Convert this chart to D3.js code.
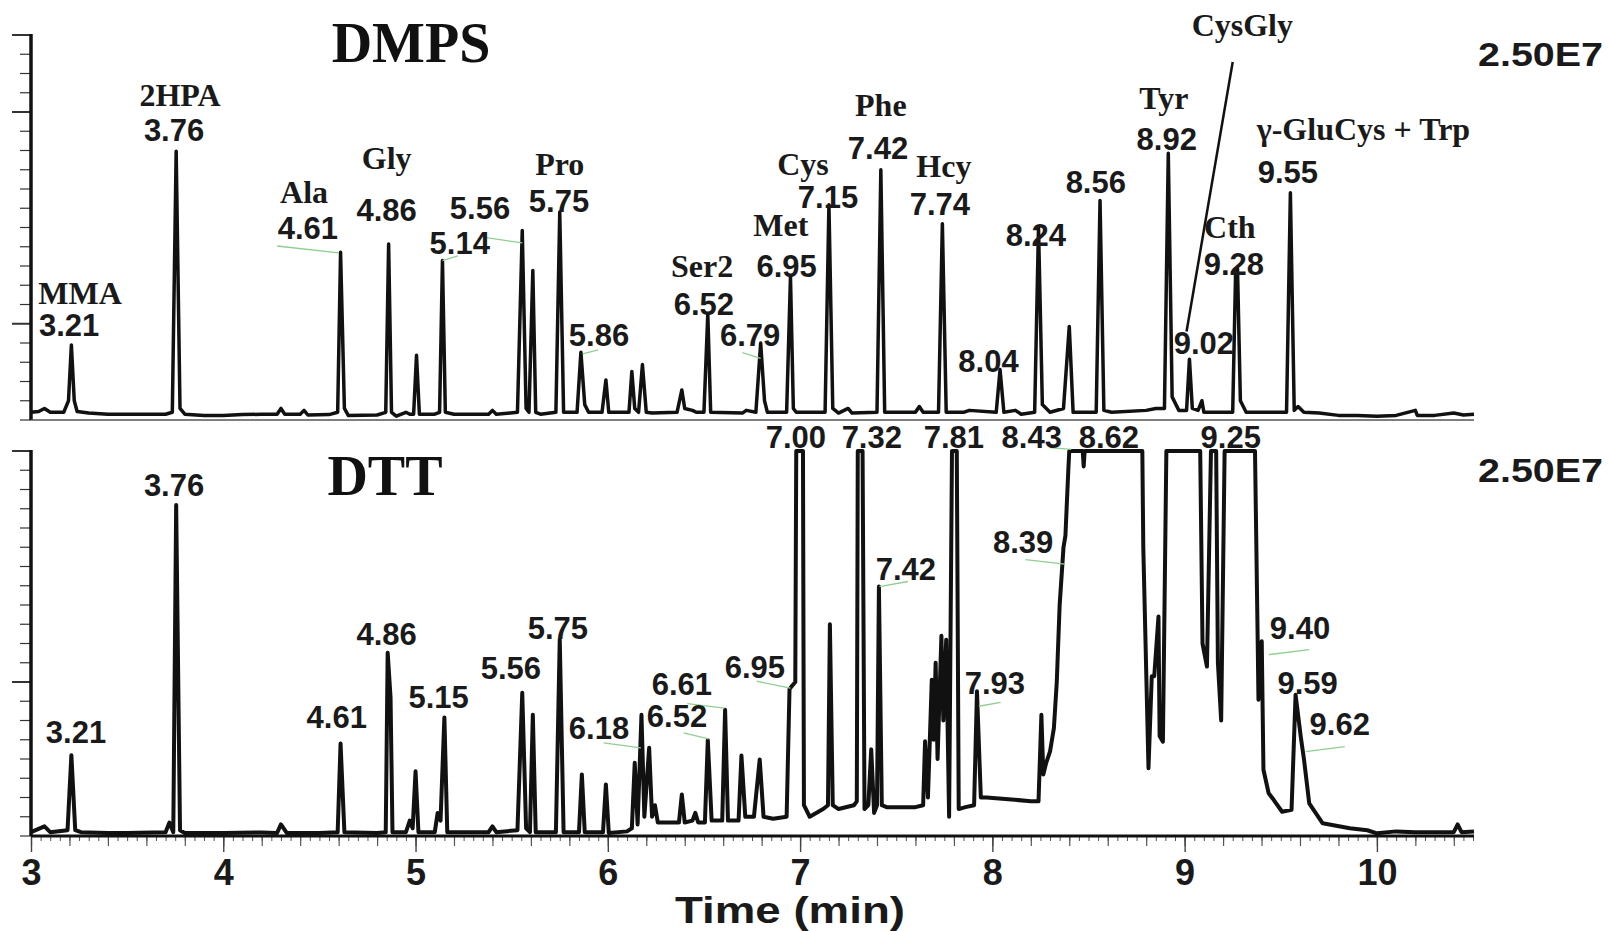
<!DOCTYPE html>
<html lang="en">
<head>
  <meta charset="UTF-8">
  <title>DMPS vs DTT chromatograms</title>
  <script src="https://d3js.org/d3.v7.min.js"></script>
  <style>
    body { margin: 0; background: #fff; }
    .num { font-family: "Liberation Sans", Arial, sans-serif; font-weight: bold; font-size: 31px; fill: #1a1a1a; }
    .name { font-family: "Liberation Serif", "Times New Roman", serif; font-weight: bold; font-size: 32px; fill: #1a1a1a; }
    .title { font-family: "Liberation Serif", "Times New Roman", serif; font-weight: bold; font-size: 56px; fill: #111; }
    .scale { font-family: "Liberation Sans", Arial, sans-serif; font-weight: bold; font-size: 34px; fill: #1a1a1a; }
    .tick text { font-family: "Liberation Sans", Arial, sans-serif; font-weight: bold; font-size: 36px; fill: #1a1a1a; }
    .axis-title { font-family: "Liberation Sans", Arial, sans-serif; font-weight: bold; font-size: 36px; fill: #1a1a1a; }
  </style>
</head>
<body>
<svg width="1610" height="931"></svg>
<script>
// traces: [time (min), relative intensity % of 2.50E7]
const dmpsTrace = [
  [3.00,2.0],[3.04,2.2],[3.07,3.0],[3.10,2.0],[3.17,2.0],[3.195,5],[3.21,19.5],[3.225,5],[3.24,2.2],
  [3.30,1.8],[3.40,1.5],[3.55,1.5],[3.70,1.5],[3.735,2],[3.755,69.8],[3.775,3],[3.80,1.5],[3.90,1.2],
  [4.00,1.2],[4.10,1.4],[4.20,1.5],[4.28,1.5],[4.30,3],[4.32,1.5],[4.40,1.5],[4.42,2.5],[4.44,1.3],
  [4.55,1.4],[4.595,2],[4.61,43.6],[4.63,3],[4.65,1.2],[4.80,1.3],[4.845,2],[4.86,45.7],[4.875,2],
  [4.90,1.0],[4.95,2],[4.97,1.5],[4.99,1.5],[5.005,16.8],[5.02,1.5],[5.10,1.5],[5.125,2],[5.14,41.4],
  [5.155,2],[5.20,1.5],[5.38,1.5],[5.40,2.5],[5.42,1.5],[5.53,2],[5.555,49.2],[5.575,3],[5.59,2],
  [5.61,38.8],[5.625,2],[5.65,1.5],[5.73,2],[5.75,54],[5.77,2],[5.84,2],[5.86,17.6],[5.88,4],[5.90,2],
  [5.97,2],[5.99,10.4],[6.005,2],[6.11,2],[6.125,12.6],[6.14,3],[6.16,2],[6.18,14.4],[6.20,2],
  [6.23,1.8],[6.36,2],[6.385,7.8],[6.40,3],[6.44,2.5],[6.46,2],[6.50,2],[6.52,27.5],[6.535,2],
  [6.70,1.8],[6.72,2.5],[6.77,2],[6.795,20],[6.815,5],[6.83,2],[6.93,2],[6.95,37.2],[6.965,3],
  [6.98,2],[7.13,2],[7.15,55.9],[7.17,3],[7.20,1.8],[7.25,3],[7.27,1.8],[7.40,2],[7.42,65],[7.44,2],
  [7.60,2],[7.62,3.5],[7.64,2],[7.72,2],[7.74,51],[7.76,2],[7.85,2],[7.88,2.5],[8.02,2],[8.04,13.1],
  [8.06,2],[8.12,2.5],[8.15,1.5],[8.22,2],[8.24,50],[8.26,4],[8.30,2],[8.37,3],[8.40,24.3],[8.42,2],
  [8.54,2],[8.56,57],[8.58,2.5],[8.62,2],[8.80,2.5],[8.85,3],[8.895,3],[8.915,69.3],[8.935,6],
  [8.97,2.5],[9.01,2.5],[9.025,15.8],[9.04,3],[9.07,2.5],[9.09,5],[9.10,2],[9.25,2],[9.265,38],
  [9.275,39.3],[9.29,5],[9.32,2],[9.53,2],[9.55,59],[9.57,2.5],[9.59,3.5],[9.62,2],[9.70,1.8],
  [9.80,1.2],[9.90,1.2],[10.0,1.0],[10.10,1.2],[10.20,2.5],[10.21,1.2],[10.30,1.2],[10.40,1.8],
  [10.45,1.3],[10.505,1.5]
];

const dttTrace = [
  [3.00,1.0],[3.07,2.5],[3.10,1.0],[3.19,1.5],[3.21,21],[3.23,1.5],[3.26,1.0],[3.40,0.8],[3.50,0.8],[3.70,1.0],
  [3.72,3.5],[3.74,1.0],[3.755,86],[3.775,1.5],[3.80,0.8],[4.00,0.8],[4.20,0.9],[4.28,0.8],[4.30,3],
  [4.33,0.8],[4.50,0.8],[4.595,1.0],[4.61,24],[4.63,1.0],[4.80,0.8],[4.845,1.0],[4.855,47.6],[4.87,36],
  [4.88,1.0],[4.95,1.0],[4.97,4],[4.985,2],[5.00,16.8],[5.015,1.0],[5.10,1.0],[5.115,6],[5.13,4],[5.15,30.8],
  [5.165,1.0],[5.38,1.0],[5.40,2.5],[5.42,1.0],[5.53,1.5],[5.555,37.2],[5.575,2],[5.595,1.0],[5.61,31.5],
  [5.625,1.0],[5.73,1.0],[5.75,51],[5.77,1.0],[5.85,1.0],[5.865,16],[5.88,1.0],[5.975,1.0],[5.99,13.4],
  [6.005,0.8],[6.10,1.2],[6.125,2],[6.14,19],[6.155,3],[6.175,31.5],[6.19,5],[6.215,22.9],[6.23,5],
  [6.245,8],[6.26,3.5],[6.37,3.5],[6.385,10.8],[6.40,3.5],[6.44,4],[6.455,6],[6.47,3.5],[6.505,3.5],
  [6.52,24.9],[6.54,4],[6.595,4],[6.61,32.8],[6.625,4],[6.68,4],[6.695,20.9],[6.715,5],[6.76,5],
  [6.79,19.9],[6.81,5],[6.86,4.5],[6.93,5],[6.945,38.2],[6.975,40],[6.98,100],[7.015,100],[7.02,8],
  [7.05,5],[7.12,7],[7.145,8],[7.155,55],[7.17,8],[7.20,7],[7.28,8],[7.295,9],[7.30,100],[7.325,100],
  [7.335,7],[7.355,8],[7.37,22.5],[7.385,6],[7.40,8],[7.41,64.8],[7.425,8],[7.45,7.5],[7.60,7.5],
  [7.64,8],[7.65,24.6],[7.665,10],[7.685,40.6],[7.695,25],[7.705,45],[7.715,20],[7.735,52],[7.745,30],
  [7.76,51],[7.775,5],[7.79,100],[7.815,100],[7.825,7],[7.86,7.5],[7.905,8],[7.92,37.6],[7.94,10],
  [7.97,10],[8.10,9.5],[8.20,9],[8.24,9],[8.255,31.5],[8.265,16],[8.28,19],[8.30,22],[8.32,28],
  [8.335,40],[8.35,60],[8.37,75],[8.38,78],[8.395,95],[8.40,100],[8.47,100],[8.475,96],[8.48,100],
  [8.78,100],[8.785,75],[8.812,17.6],[8.829,41.5],[8.842,41.5],[8.864,57],[8.87,26],[8.887,24.5],
  [8.905,100],[9.081,100],[9.093,50],[9.116,44],[9.137,100],[9.164,100],[9.173,45],[9.19,30],
  [9.208,100],[9.366,100],[9.38,50.6],[9.384,35.4],[9.401,50.6],[9.41,17.2],[9.437,11.1],
  [9.463,9.4],[9.507,6.3],[9.556,6.8],[9.577,36.7],[9.604,25.8],[9.621,19.8],[9.648,8.5],
  [9.718,3.3],[9.859,2],[9.95,1.5],[10.00,0.7],[10.10,1.2],[10.20,1.0],[10.40,1.0],[10.42,3],
  [10.44,1.0],[10.505,1.2]
];

// peak annotations: text, anchor time, anchor intensity
const dmpsNames = [
  ["MMA",3.255,30.1],["2HPA",3.775,81.6],["Ala",4.42,56.4],["Gly",4.85,65.2],["Pro",5.75,63.6],
  ["Ser2",6.49,37.1],["Met",6.90,47.8],["Cys",7.015,63.6],["Phe",7.42,79],["Hcy",7.748,63.1],
  ["Tyr",8.892,80.8],["CysGly",9.30,99.7],["Cth",9.235,47.3],["\u03b3-GluCys + Trp",9.93,72.7]
];
const dmpsTimes = [
  ["3.21",3.198,21.8],["3.76",3.744,72.5],["4.61",4.44,47],["4.86",4.85,51.7],["5.14",5.23,43.1],
  ["5.56",5.335,52.2],["5.75",5.746,54],["5.86",5.954,19.2],["6.52",6.50,27.3],["6.79",6.74,19.2],
  ["6.95",6.93,37.1],["7.15",7.145,55.1],["7.42",7.405,67.8],["7.74",7.727,53.2],["8.04",7.98,12.5],
  ["8.24",8.226,45.2],["8.56",8.538,59],["8.92",8.907,70.1],["9.02",9.10,17.1],["9.28",9.256,37.7],
  ["9.55",9.537,61.6]
];
const dttTimes = [
  ["3.21",3.234,24.2],["3.76",3.744,88.3],["4.61",4.59,28.1],["4.86",4.85,49.6],["5.15",5.12,33.2],
  ["5.56",5.496,40.8],["5.75",5.74,51.2],["6.18",5.954,25.2],["6.52",6.36,28.3],["6.61",6.385,36.6],
  ["6.95",6.765,41],["7.00",6.978,100.8],["7.32",7.373,100.8],["7.81",7.80,100.8],["8.43",8.205,100.8],
  ["8.62",8.606,100.8],["9.25",9.24,100.8],["7.42",7.55,66.5],["7.93",8.013,36.9],["8.39",8.16,73.5],
  ["9.40",9.60,51.2],["9.59",9.64,36.9],["9.62",9.807,26.2]
];
// thin leader lines [t1, v1, t2, v2]
const dmpsLeaders = [
  [4.28,45.2,4.60,43.4],[5.14,41.4,5.22,42.6],[5.35,47.5,5.555,46],[5.87,17.2,5.95,18.2],[6.70,17.5,6.795,16]
];
const dttLeaders = [
  [5.978,24.2,6.172,22.9],[6.394,26.8,6.524,25.2],[6.413,34.4,6.607,33.2],[6.774,40.2,6.95,38.4],
  [7.413,64.8,7.561,66.1],[7.93,33.7,8.043,34.7],[8.172,71.8,8.376,70.6],[8.30,100.9,8.41,100.4],
  [9.437,47.1,9.648,48.4],[9.63,21.9,9.833,23.2]
];
const cysGlyPointer = [9.25, 93, 9.01, 23];

const xMajor = [3, 4, 5, 6, 7, 8, 9, 10];
const fullScale = "2.50E7";

const svg = d3.select("svg");
const x = d3.scaleLinear().domain([3, 10.505]).range([31, 1474]);
const yTop = d3.scaleLinear().domain([0, 100]).range([420, 35]);
const yBot = d3.scaleLinear().domain([0, 100]).range([836, 451]);

const yTicks = d3.range(0, 101, 5);
const xMinor = d3.range(3, 10.51, 0.05).map(d => +d.toFixed(2));
const xMid = d3.range(3, 10.51, 0.2).map(d => +d.toFixed(2));

function leftTicks(y, longOnes) {
  const g = svg.append("g");
  g.selectAll("line").data(yTicks).enter().append("line")
    .attr("x1", d => longOnes.includes(d) ? 12 : 20).attr("x2", 31)
    .attr("y1", d => y(d)).attr("y2", d => y(d))
    .attr("stroke", "#333").attr("stroke-width", d => longOnes.includes(d) ? 2 : 1.2);
  g.append("line").attr("x1", 31).attr("x2", 31).attr("y1", y(100) - 1).attr("y2", y(0))
    .attr("stroke", "#111").attr("stroke-width", 3.5);
}
leftTicks(yTop, [100, 80, 25]);
leftTicks(yBot, [100, 40]);

// top panel baseline (thin)
svg.append("line").attr("x1", 31).attr("x2", 1474).attr("y1", yTop(0)).attr("y2", yTop(0))
  .attr("stroke", "#555").attr("stroke-width", 1.3);

// bottom time axis
svg.append("g").attr("transform", `translate(0,${yBot(0)})`)
  .call(d3.axisBottom(x).tickValues(xMinor).tickSize(5).tickFormat(""))
  .call(g => g.select(".domain").remove())
  .selectAll("line").attr("stroke", "#555").attr("stroke-width", 1);
svg.append("g").attr("transform", `translate(0,${yBot(0)})`)
  .call(d3.axisBottom(x).tickValues(xMid).tickSize(10).tickFormat(""))
  .call(g => g.select(".domain").remove())
  .selectAll("line").attr("stroke", "#555").attr("stroke-width", 1.2);
const xAx = svg.append("g").attr("transform", `translate(0,${yBot(0)})`)
  .call(d3.axisBottom(x).tickValues(xMajor).tickSize(16).tickPadding(10).tickFormat(d3.format("d")));
xAx.select(".domain").remove();
xAx.selectAll("line").attr("stroke", "#444").attr("stroke-width", 1.4);
xAx.selectAll("text").attr("fill", "#1a1a1a").attr("y", 49).attr("dy", 0);
svg.append("line").attr("x1", 31).attr("x2", 1474).attr("y1", yBot(0)).attr("y2", yBot(0))
  .attr("stroke", "#111").attr("stroke-width", 3);

svg.append("text").attr("class", "axis-title").attr("x", 790).attr("y", 923)
  .attr("text-anchor", "middle").attr("textLength", 230).attr("lengthAdjust", "spacingAndGlyphs")
  .text("Time (min)");

// traces
function trace(data, y, w) {
  svg.append("path").datum(data)
    .attr("fill", "none").attr("stroke", "#111").attr("stroke-width", w)
    .attr("stroke-linejoin", "round")
    .attr("d", d3.line().x(d => x(d[0])).y(d => y(d[1])));
}
trace(dmpsTrace, yTop, 3.5);
trace(dttTrace, yBot, 4);

function leaders(list, y) {
  svg.append("g").selectAll("line").data(list).enter().append("line")
    .attr("x1", d => x(d[0])).attr("y1", d => y(d[1]))
    .attr("x2", d => x(d[2])).attr("y2", d => y(d[3]))
    .attr("stroke", "#8fcf8f").attr("stroke-width", 1.3);
}
leaders(dmpsLeaders, yTop);
leaders(dttLeaders, yBot);

svg.append("line")
  .attr("x1", x(cysGlyPointer[0])).attr("y1", yTop(cysGlyPointer[1]))
  .attr("x2", x(cysGlyPointer[2])).attr("y2", yTop(cysGlyPointer[3]))
  .attr("stroke", "#111").attr("stroke-width", 2.5);

function labels(list, y, cls) {
  svg.append("g").selectAll("text").data(list).enter().append("text")
    .attr("class", cls).attr("text-anchor", "middle")
    .attr("x", d => x(d[1])).attr("y", d => y(d[2]))
    .text(d => d[0]);
}
labels(dmpsNames, yTop, "name");
labels(dmpsTimes, yTop, "num");
labels(dttTimes, yBot, "num");

svg.append("text").attr("class", "title").attr("x", 411).attr("y", 62).attr("text-anchor", "middle").text("DMPS");
svg.append("text").attr("class", "title").attr("x", 385).attr("y", 495).attr("text-anchor", "middle").text("DTT");
[66, 482].forEach(yy => {
  svg.append("text").attr("class", "scale").attr("x", 1478).attr("y", yy)
    .attr("textLength", 125).attr("lengthAdjust", "spacingAndGlyphs").text(fullScale);
});
</script>
</body>
</html>
